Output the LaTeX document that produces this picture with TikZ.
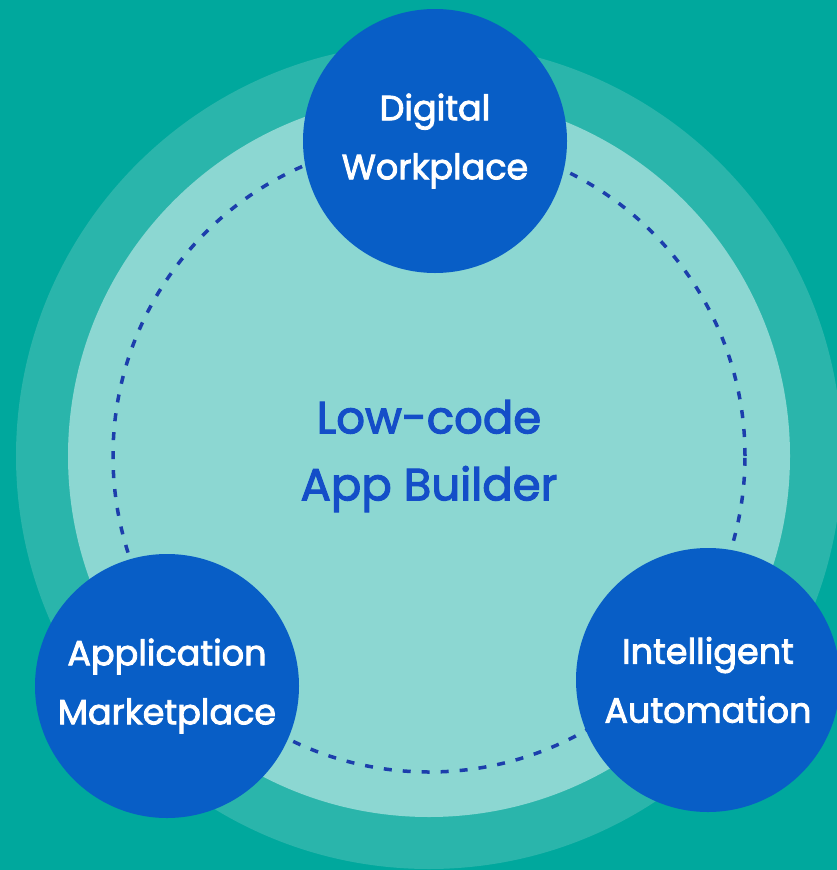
\documentclass[tikz,border=0pt]{standalone}
\usepackage{fontspec}
\setmainfont{Poppins}
\newfontfamily\thickfont{Poppins}[FakeBold=2.5]

\definecolor{bgteal}{RGB}{0,168,157}
\definecolor{ringteal}{RGB}{42,181,171}
\definecolor{innerteal}{RGB}{140,215,210}
\definecolor{pillarblue}{RGB}{8,94,198}
\definecolor{dashblue}{RGB}{28,62,172}
\definecolor{labelblue}{RGB}{20,78,200}

\begin{document}
\begin{tikzpicture}[x=1pt,y=-1pt,
  pillar/.style={circle,fill=pillarblue,minimum size=264pt,inner sep=0pt,
    align=center,text=white,font=\thickfont\fontsize{35}{59}\selectfont}]
\clip (0,0) rectangle (837,870);
\fill[bgteal] (0,0) rectangle (837,870);
\coordinate (hub) at (429,456);
\fill[ringteal] (hub) circle (413pt);
\fill[innerteal] (hub) circle (361pt);
\draw[dashblue,line width=3.5pt,dash pattern=on 8pt off 11pt] (hub) circle (316pt);
\node[text=labelblue,align=center,font=\thickfont\fontsize{45}{67}\selectfont] (builder) at (429,456) {Low-code\\App Builder};
\node[pillar] (digital) at (435,141) {Digital\\Workplace};
\node[pillar] (market) at (167,686) {Application\\Marketplace};
\node[pillar] (automation) at (708,680) {Intelligent\\Automation};
\end{tikzpicture}
\end{document}
